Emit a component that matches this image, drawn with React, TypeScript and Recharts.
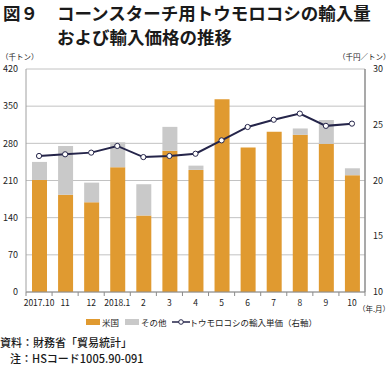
import { Bar, CartesianGrid, ComposedChart, Line, XAxis, YAxis } from "recharts";

const MONTHS = ["2017.10", "11", "12", "2018.1", "2", "3", "4", "5", "6", "7", "8", "9", "10"];
// 千トン
const US_IMPORTS = [211, 183, 169, 235, 144, 266, 230, 363, 272, 302, 296, 279, 220];
const OTHER_IMPORTS = [34, 92, 37, 47, 59, 45, 8, 0, 0, 0, 12, 45, 13];
// 千円/トン
const UNIT_PRICE = [22.2, 22.35, 22.5, 23.1, 22.1, 22.2, 22.4, 23.6, 24.8, 25.45, 26.0, 24.9, 25.1];
const LEFT_TICKS = [0, 70, 140, 210, 280, 350, 420];
const RIGHT_TICKS = [10, 15, 20, 25, 30];

const ORANGE = "#E09A30";
const GREY = "#C9C9C9";
const NAVY = "#25254A";
const FONT = '"Noto Sans CJK JP", "Noto Sans", sans-serif';

const data = MONTHS.map((m, i) => ({
  month: m,
  us: US_IMPORTS[i],
  other: OTHER_IMPORTS[i],
  price: UNIT_PRICE[i],
}));

function MonthTick(props: any) {
  const { x, y, payload, index } = props;
  const half = payload.offset ?? 0;
  const axisY = y - 8;
  return (
    <g>
      <line x1={x - half} x2={x - half} y1={axisY} y2={axisY + 4} stroke="#8C8C8C" />
      {index === MONTHS.length - 1 && (
        <line x1={x + half} x2={x + half} y1={axisY} y2={axisY + 4} stroke="#8C8C8C" />
      )}
      <text x={x} y={y} dy="0.71em" textAnchor="middle" fontSize={8.5} fill="#222" fontFamily={FONT}>
        {payload.value}
      </text>
    </g>
  );
}

const abs = (left: number, top: number, extra: object = {}) => ({
  position: "absolute" as const,
  left,
  top,
  whiteSpace: "nowrap" as const,
  fontFamily: FONT,
  color: "#1a1a1a",
  ...extra,
});

export default function App() {
  return (
    <div style={{ position: "absolute", left: 0, top: 0, width: 390, height: 365, background: "#fff", overflow: "hidden" }}>
      <div style={abs(3, 3, { fontSize: 17.5, fontWeight: 700, lineHeight: "20px" })}>図９</div>
      <div style={abs(57, 3, { fontSize: 17.5, fontWeight: 700, lineHeight: "20px" })}>コーンスターチ用トウモロコシの輸入量</div>
      <div style={abs(57, 27, { fontSize: 17.5, fontWeight: 700, lineHeight: "20px" })}>および輸入価格の推移</div>
      <div style={abs(1, 52, { fontSize: 7.5, lineHeight: "9px" })}>（千トン）</div>
      <div style={abs(338, 52, { fontSize: 7.5, lineHeight: "9px" })}>（千円／トン）</div>

      <div style={{ position: "absolute", left: 0, top: 0 }}>
        <ComposedChart width={390} height={365} data={data} margin={{ top: 69, right: 0, bottom: 53, left: 0 }}>
          <CartesianGrid vertical={false} stroke="#C2C2C2" yAxisId="left" />
          <XAxis
            dataKey="month"
            tick={<MonthTick />}
            tickLine={false}
            tickSize={4}
            tickMargin={4}
            height={20}
            axisLine={{ stroke: "#8C8C8C" }}
            interval={0}
          />
          <YAxis
            yAxisId="left"
            domain={[0, 420]}
            ticks={LEFT_TICKS}
            width={26}
            tickLine={false}
            axisLine={{ stroke: "#A0A0A0" }}
            tick={{ fontSize: 9, fill: "#222", fontFamily: FONT }}
          />
          <YAxis
            yAxisId="right"
            orientation="right"
            domain={[10, 30]}
            ticks={RIGHT_TICKS}
            width={25}
            tickLine={false}
            axisLine={{ stroke: "#8C8C8C", strokeWidth: 1.5 }}
            tick={{ fontSize: 9, fill: "#222", fontFamily: FONT }}
          />
          <Bar yAxisId="left" dataKey="us" stackId="imp" fill={ORANGE} barSize={15} isAnimationActive={false} />
          <Bar yAxisId="left" dataKey="other" stackId="imp" fill={GREY} barSize={15} isAnimationActive={false} />
          <Line
            yAxisId="right"
            dataKey="price"
            stroke={NAVY}
            strokeWidth={2}
            dot={{ r: 2.6, fill: "#fff", stroke: NAVY, strokeWidth: 1 }}
            isAnimationActive={false}
          />
        </ComposedChart>
      </div>

      <div style={abs(358, 304, { fontSize: 7.5, lineHeight: "9px" })}>（年.月）</div>

      <div style={abs(86, 316, { fontSize: 8.5, lineHeight: "12px", display: "flex", alignItems: "center" })}>
        <span style={{ display: "inline-block", width: 14, height: 6, background: ORANGE, marginRight: 2 }} />
        <span>米国</span>
        <span style={{ display: "inline-block", width: 14, height: 6, background: GREY, margin: "0 2px 0 6px" }} />
        <span>その他</span>
        <svg width={18} height={8} style={{ margin: "0 0 0 5px" }}>
          <line x1={0} x2={18} y1={4} y2={4} stroke={NAVY} strokeWidth={1.5} />
          <circle cx={9} cy={4} r={2.3} fill="#fff" stroke={NAVY} strokeWidth={1} />
        </svg>
        <span>トウモロコシの輸入単価（右軸）</span>
      </div>

      <div style={abs(0, 336, { fontSize: 11, fontWeight: 500, lineHeight: "13px" })}>資料：財務省「貿易統計」</div>
      <div style={abs(10, 352, { fontSize: 11, fontWeight: 500, lineHeight: "13px" })}>注：HSコード1005.90-091</div>
    </div>
  );
}
